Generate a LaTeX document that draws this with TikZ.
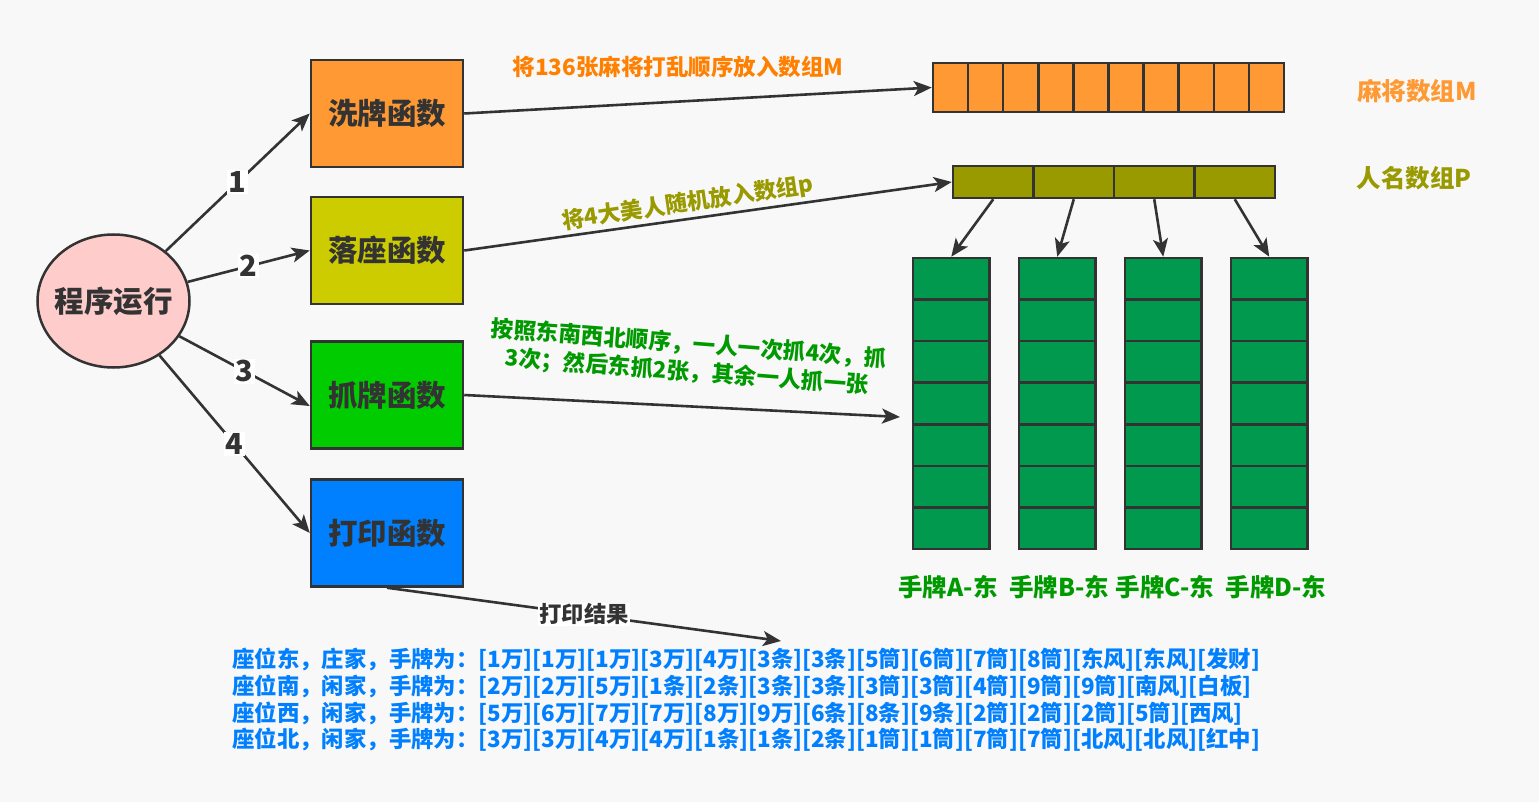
\documentclass[tikz,border=0pt]{standalone}
\usepackage{fontspec}
\setmainfont{Noto Sans CJK SC}
\usetikzlibrary{arrows.meta,shapes.geometric}
\definecolor{ln}{HTML}{333333}
\definecolor{bgc}{HTML}{F8F8F8}
\definecolor{pinkc}{HTML}{FFCCCC}
\definecolor{orangec}{HTML}{FF9933}
\definecolor{orangetext}{HTML}{FF8000}
\definecolor{yelc}{HTML}{CCCC00}
\definecolor{olivec}{HTML}{999900}
\definecolor{greenc}{HTML}{00CC00}
\definecolor{greentext}{HTML}{009900}
\definecolor{handc}{HTML}{00994D}
\definecolor{bluec}{HTML}{007FFF}
\tikzset{
  box/.style={draw=ln, line width=2.5pt, minimum width=152pt, minimum height=107pt,
    inner sep=0pt, text=ln, font=\fontsize{29.5}{34}\selectfont\bfseries},
  cell/.style={draw=ln, line width=2.5pt, inner sep=0pt},
  arr/.style={draw=ln, line width=2.6pt, -{Stealth[length=18pt,width=15pt,inset=4.5pt]}},
  num/.style={fill=white, inner sep=1.5pt, text=ln, font=\fontsize{29}{32}\selectfont\bfseries},
  lbl/.style={inner sep=0pt, font=\fontsize{22.5}{27}\selectfont\bfseries},
  hlabel/.style={lbl, text=greentext, font=\fontsize{24.5}{29}\selectfont\bfseries}
}
\begin{document}
\begin{tikzpicture}[x=1pt,y=-1pt]
\fill[bgc] (0,0) rectangle (1539,802);
\useasboundingbox (0,0) rectangle (1539,802);

% main circle and function boxes
\node[ellipse, draw=ln, line width=2.5pt, fill=pinkc, minimum width=152pt, minimum height=133pt,
  inner sep=-14pt, text=ln, font=\fontsize{29.5}{34}\selectfont\bfseries] (run) at (113.5,301) {程序运行};
\node[box, fill=orangec] (wash) at (387,113.5) {洗牌函数};
\node[box, fill=yelc] (sit) at (387,250.5) {落座函数};
\node[box, fill=greenc] (grab) at (387,395) {抓牌函数};
\node[box, fill=bluec] (print) at (387,533) {打印函数};

% array M
\foreach \i in {1,...,10}
  \node[cell, fill=orangec, minimum width=35.1pt, minimum height=49pt] (m\i) at ({933+35.1*(\i-0.5)},87.5) {};
% array P
\foreach \i in {1,...,4}
  \node[cell, fill=olivec, minimum width=80.5pt, minimum height=32pt] (p\i) at ({953+80.5*(\i-0.5)},182) {};
% hands
\foreach \c/\x in {A/913,B/1019,C/1125,D/1231}
  \foreach \j in {1,...,7}
    \node[cell, fill=handc, minimum width=76.5pt, minimum height=41.57pt] (h\c\j) at ({\x+38.25},{258+41.57*(\j-0.5)}) {};

% labels
\node[lbl, text=orangec, font=\fontsize{24.5}{28}\selectfont\bfseries] (mlab) at (1417,91) {麻将数组M};
\node[lbl, text=olivec, font=\fontsize{24.5}{28}\selectfont\bfseries] (plab) at (1414,178) {人名数组P};
\node[hlabel] (lA) at (948,587.5) {手牌A-东};
\node[hlabel] (lB) at (1059,587.5) {手牌B-东};
\node[hlabel] (lC) at (1165,587.5) {手牌C-东};
\node[hlabel] (lD) at (1276,587.5) {手牌D-东};

% arrows from main
\draw[arr] (run) -- node[num]{1} (wash.west);
\draw[arr] (run) -- node[num]{2} (sit.west);
\draw[arr] (run) -- node[num]{3} ([yshift=-11pt]grab.west);
\draw[arr] (run) -- node[num]{4} (print.west);

% function arrows
\draw[arr] (wash.east) -- (m1.west);
\node[lbl, text=orangetext] (washlab) at (678,67) {将136张麻将打乱顺序放入数组M};

\draw[arr] (sit.east) -- (p1.west);
\node[lbl, text=olivec, rotate=8.5] (sitlab) at (688,203) {将4大美人随机放入数组p};

\coordinate (gend) at (900,417);
\draw[arr] (grab.east) -- (gend);
\node[lbl, text=greentext, align=center, rotate=-4.4, font=\fontsize{22.5}{28}\selectfont\bfseries] (grablab) at (688,358)
  {按照东南西北顺序，一人一次抓4次，抓\\3次；然后东抓2张，其余一人抓一张};

\coordinate (pend) at (781,641);
\draw[arr] (print.south) -- node[fill=white, inner sep=1pt, text=ln, font=\fontsize{22.3}{26}\selectfont\bfseries]{打印结果} (pend);

% P to hands
\draw[arr] (p1.south) -- (hA1.north);
\draw[arr] (p2.south) -- (hB1.north);
\draw[arr] (p3.south) -- (hC1.north);
\draw[arr] (p4.south) -- (hD1.north);

% output text
\node[lbl, text=bluec, anchor=north west, align=left, font=\fontsize{22.4}{26.7}\selectfont\bfseries] (out) at (232,648)
{座位东，庄家，手牌为：[1万][1万][1万][3万][4万][3条][3条][5筒][6筒][7筒][8筒][东风][东风][发财]\\
座位南，闲家，手牌为：[2万][2万][5万][1条][2条][3条][3条][3筒][3筒][4筒][9筒][9筒][南风][白板]\\
座位西，闲家，手牌为：[5万][6万][7万][7万][8万][9万][6条][8条][9条][2筒][2筒][2筒][5筒][西风]\\
座位北，闲家，手牌为：[3万][3万][4万][4万][1条][1条][2条][1筒][1筒][7筒][7筒][北风][北风][红中]};
\end{tikzpicture}
\end{document}
